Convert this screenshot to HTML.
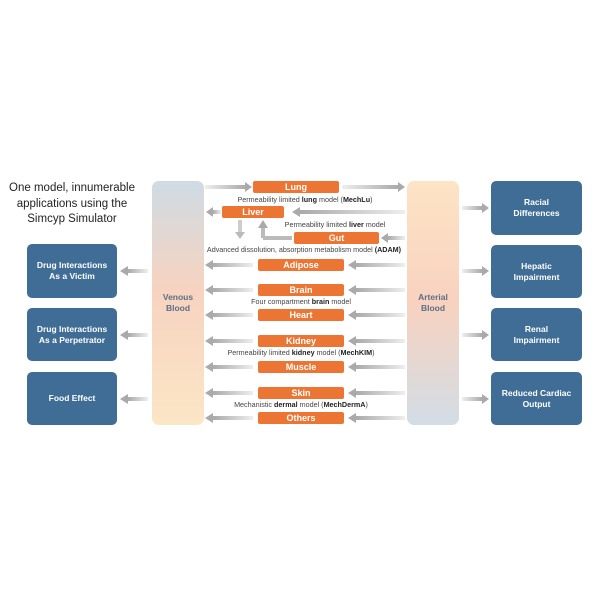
<!DOCTYPE html>
<html><head><meta charset="utf-8"><style>
body{margin:0;width:600px;height:600px;background:#fff;position:relative;overflow:hidden;font-family:"Liberation Sans",sans-serif}
.a{position:absolute}
.org{position:absolute;background:#ec7533;color:#fff;font-weight:bold;font-size:9px;text-align:center;border-radius:2px;height:12px;line-height:12px;width:86px;left:258px}
.lbl{position:absolute;font-size:7.2px;color:#444;white-space:nowrap;text-align:center}
.lbl b{color:#222}
.bx{position:absolute;background:#3f6d96;color:#fff;font-weight:bold;font-size:8.5px;text-align:center;border-radius:5px;display:flex;align-items:center;justify-content:center;line-height:11px}
.col{position:absolute;top:181px;height:244px;width:52px;border-radius:7px;display:flex;align-items:center;justify-content:center;font-weight:bold;font-size:8.5px;color:#5a6e86;text-align:center;line-height:11px}
</style></head><body>
<div class="a" style="left:2px;top:181px;width:140px;text-align:center;font-size:11.5px;line-height:15.5px;color:#222">One model, innumerable<br>applications using the<br>Simcyp Simulator</div>
<div class="col" style="left:152px;background:linear-gradient(#cfdbe4,#f7d3c0 45%,#fbe6c6)">Venous<br>Blood</div>
<div class="col" style="left:407px;background:linear-gradient(#fde4c5,#f8d2bf 50%,#d2dde6)">Arterial<br>Blood</div>
<svg class="a" style="left:0;top:0" width="600" height="600">
<defs>
<linearGradient id="gr" x1="0" x2="1"><stop offset="0" stop-color="#eee"/><stop offset="1" stop-color="#aaa"/></linearGradient>
<linearGradient id="gl" x1="1" x2="0"><stop offset="0" stop-color="#eee"/><stop offset="1" stop-color="#aaa"/></linearGradient>
</defs>
<rect x="205" y="185" width="40" height="4" fill="url(#gr)"/><polygon points="245,182 252,187 245,192" fill="#aaa"/>
<rect x="342" y="185" width="56" height="4" fill="url(#gr)"/><polygon points="398,182 405,187 398,192" fill="#aaa"/>
<rect x="213" y="210" width="8" height="4" fill="url(#gl)"/><polygon points="213,207 206,212 213,217" fill="#aaa"/>
<rect x="300" y="210" width="105" height="4" fill="url(#gl)"/><polygon points="300,207 292,212 300,217" fill="#aaa"/>
<rect x="238" y="220" width="4" height="12" fill="#ccc"/><polygon points="235,232 240,239 245,232" fill="#bbb"/>
<path d="M263 238 V228 M263 238 H292" stroke="#bbb" stroke-width="4" fill="none"/><polygon points="258,228 263,220 268,228" fill="#aaa"/>
<rect x="388" y="236" width="17" height="4" fill="url(#gl)"/><polygon points="388,233 381,238 388,243" fill="#aaa"/>
<g fill="#aaa">
<rect x="128" y="269" width="20" height="4" fill="url(#gl)"/><polygon points="128,266 120,271 128,276"/>
<rect x="128" y="333" width="20" height="4" fill="url(#gl)"/><polygon points="128,330 120,335 128,340"/>
<rect x="128" y="397" width="20" height="4" fill="url(#gl)"/><polygon points="128,394 120,399 128,404"/>
<rect x="462" y="206" width="20" height="4" fill="url(#gr)"/><polygon points="482,203 489,208 482,213"/>
<rect x="462" y="269" width="20" height="4" fill="url(#gr)"/><polygon points="482,266 489,271 482,276"/>
<rect x="462" y="333" width="20" height="4" fill="url(#gr)"/><polygon points="482,330 489,335 482,340"/>
<rect x="462" y="397" width="20" height="4" fill="url(#gr)"/><polygon points="482,394 489,399 482,404"/>
</g>
<g fill="#aaa">
<rect x="213" y="263" width="40" height="4" fill="url(#gl)"/><polygon points="213,260 205,265 213,270"/>
<rect x="356" y="263" width="49" height="4" fill="url(#gl)"/><polygon points="356,260 348,265 356,270"/>
<rect x="213" y="288" width="40" height="4" fill="url(#gl)"/><polygon points="213,285 205,290 213,295"/>
<rect x="356" y="288" width="49" height="4" fill="url(#gl)"/><polygon points="356,285 348,290 356,295"/>
<rect x="213" y="313" width="40" height="4" fill="url(#gl)"/><polygon points="213,310 205,315 213,320"/>
<rect x="356" y="313" width="49" height="4" fill="url(#gl)"/><polygon points="356,310 348,315 356,320"/>
<rect x="213" y="339" width="40" height="4" fill="url(#gl)"/><polygon points="213,336 205,341 213,346"/>
<rect x="356" y="339" width="49" height="4" fill="url(#gl)"/><polygon points="356,336 348,341 356,346"/>
<rect x="213" y="365" width="40" height="4" fill="url(#gl)"/><polygon points="213,362 205,367 213,372"/>
<rect x="356" y="365" width="49" height="4" fill="url(#gl)"/><polygon points="356,362 348,367 356,372"/>
<rect x="213" y="391" width="40" height="4" fill="url(#gl)"/><polygon points="213,388 205,393 213,398"/>
<rect x="356" y="391" width="49" height="4" fill="url(#gl)"/><polygon points="356,388 348,393 356,398"/>
<rect x="213" y="416" width="40" height="4" fill="url(#gl)"/><polygon points="213,413 205,418 213,423"/>
<rect x="356" y="416" width="49" height="4" fill="url(#gl)"/><polygon points="356,413 348,418 356,423"/>
</g>
</svg>
<div class="org" style="left:253px;top:181px">Lung</div>
<div class="lbl" style="left:200px;width:210px;top:195px">Permeability limited <b>lung</b> model (<b>MechLu</b>)</div>
<div class="org" style="left:222px;top:206px;width:62px">Liver</div>
<div class="lbl" style="left:270px;width:130px;top:220px">Permeability limited <b>liver</b> model</div>
<div class="org" style="left:294px;top:232px;width:85px">Gut</div>
<div class="lbl" style="left:198px;width:212px;top:245px">Advanced dissolution, absorption metabolism model <b>(ADAM)</b></div>
<div class="org" style="top:259px">Adipose</div>
<div class="org" style="top:284px">Brain</div>
<div class="lbl" style="left:220px;width:162px;top:297px">Four compartment <b>brain</b> model</div>
<div class="org" style="top:309px">Heart</div>
<div class="org" style="top:335px">Kidney</div>
<div class="lbl" style="left:200px;width:202px;top:348px">Permeability limited <b>kidney</b> model (<b>MechKIM</b>)</div>
<div class="org" style="top:361px">Muscle</div>
<div class="org" style="top:387px">Skin</div>
<div class="lbl" style="left:200px;width:202px;top:400px">Mechanistic <b>dermal</b> model (<b>MechDermA</b>)</div>
<div class="org" style="top:412px">Others</div>
<div class="bx" style="left:27px;top:244px;width:90px;height:54px">Drug Interactions<br>As a Victim</div>
<div class="bx" style="left:27px;top:308px;width:90px;height:53px">Drug Interactions<br>As a Perpetrator</div>
<div class="bx" style="left:27px;top:372px;width:90px;height:53px">Food Effect</div>
<div class="bx" style="left:491px;top:181px;width:91px;height:54px">Racial<br>Differences</div>
<div class="bx" style="left:491px;top:245px;width:91px;height:53px">Hepatic<br>Impairment</div>
<div class="bx" style="left:491px;top:308px;width:91px;height:53px">Renal<br>Impairment</div>
<div class="bx" style="left:491px;top:372px;width:91px;height:53px">Reduced Cardiac<br>Output</div>
</body></html>
